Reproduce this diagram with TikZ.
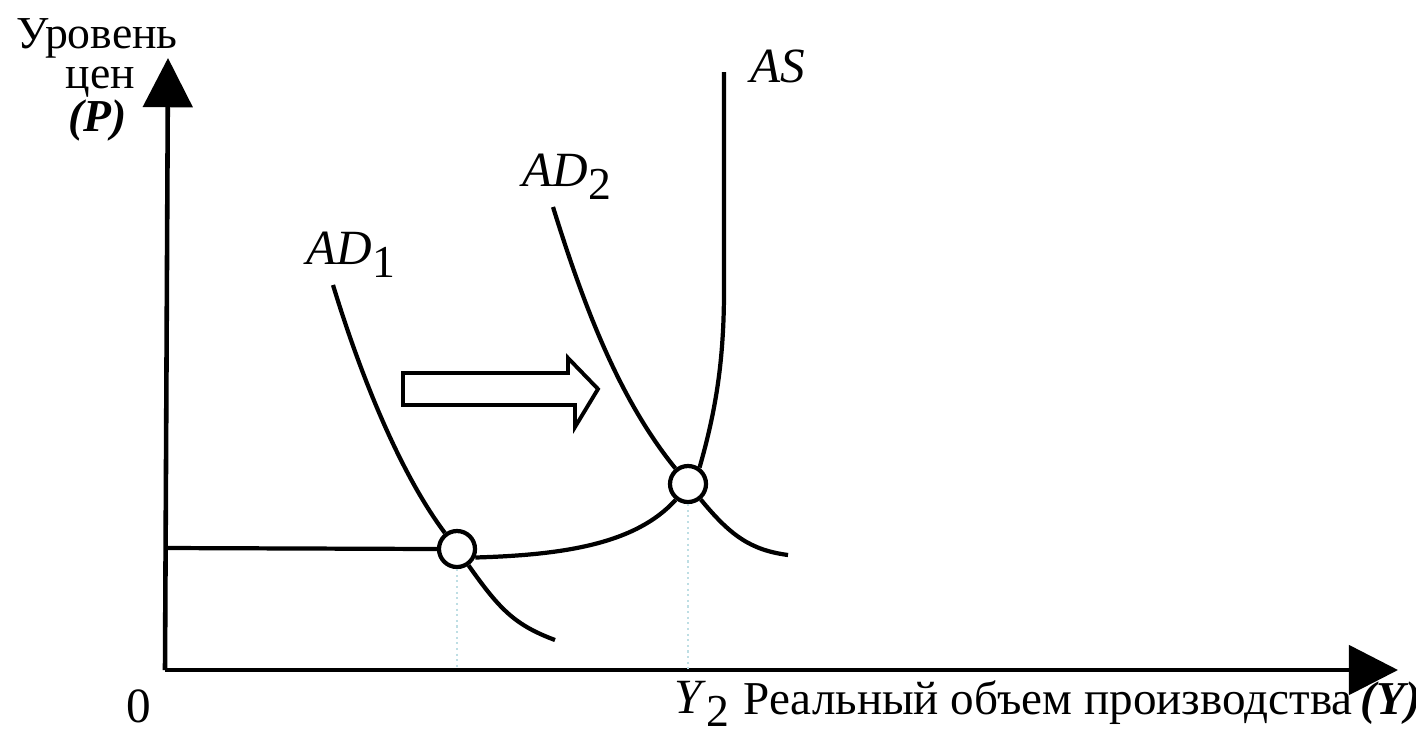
\documentclass[tikz,border=0pt]{standalone}
\usepackage{fontspec}
\setmainfont{Liberation Serif}
\usetikzlibrary{arrows.meta}
\newcommand{\lowidx}[1]{\raisebox{-3.8pt}{\fontsize{13}{13}\selectfont #1}}

\begin{document}
\begin{tikzpicture}[x=0.01cm, y=-0.01cm,
	curve/.style={line width=1.2pt},
	axis/.style={line width=1.3pt, -{Triangle[length=14pt, width=14pt]}},
	eq/.style={circle, draw, line width=1.2pt, fill=white, minimum size=0.36cm, inner sep=0pt},
	lbl/.style={anchor=base west, inner sep=0pt, font=\fontsize{14}{16}\selectfont},
	toplbl/.style={lbl, font=\fontsize{13}{14}\selectfont},
	axlbl/.style={lbl, font=\fontsize{13.4}{15}\selectfont},
	guide/.style={densely dotted, line width=0.6pt, color={rgb,255:red,190;green,222;blue,228}}]

\useasboundingbox (0,0) rectangle (1416,733);

% axes
\coordinate (o) at (165,670);
\draw[axis] (o) -- (168,58);
\draw[axis] (o) -- (1398,670);

% equilibrium points
\node[eq] (e1) at (457,549) {};
\node[eq] (e2) at (688,484) {};

% guide lines down to the output axis
\foreach \e in {e1,e2}{
	\draw[guide] (\e.south) -- (\e.south |- o);
}

% aggregate supply
\coordinate (as0) at (165,548);
\coordinate (astop) at (724,72);
\draw[curve] (as0) -- (e1.west);
\draw[curve] (e1.-25) .. controls (560,555) and (635,545) .. (e2.-128);
\draw[curve] (e2.55) .. controls (716,410) and (724,360) .. (724,290) -- (astop);

% demand before and after
\coordinate (ad1a) at (333,285);
\coordinate (ad1b) at (555,640);
\draw[curve] (ad1a) .. controls (365,390) and (405,480) .. (e1);
\draw[curve] (e1) .. controls (500,610) and (515,625) .. (ad1b);

\coordinate (ad2a) at (553,207);
\coordinate (ad2b) at (788,555);
\draw[curve] (ad2a) .. controls (585,310) and (620,400) .. (e2);
\draw[curve] (e2) .. controls (730,535) and (750,550) .. (ad2b);

% shift of demand
\draw[line width=1.1pt] (403,373) -- (568,373) -- (568,358) -- (598,389)
	-- (575,427) -- (575,405) -- (403,405) -- cycle;

% labels
\node[toplbl] (plab1) at (16,48) {Уровень};
\node[toplbl] (plab2) at (65,88) {цен};
\node[toplbl, font=\fontsize{13}{14}\selectfont\bfseries\itshape] (plab3) at (68,131) {(P)};
\node[lbl] (ad1lab) at (306,264) {\textit{AD}\lowidx{1}};
\node[lbl] (ad2lab) at (522,186) {\textit{AD}\lowidx{2}};
\node[lbl] (aslab) at (750,82) {\textit{AS}};
\node[lbl] (zero) at (126,722) {0};
\node[lbl] (y2lab) at (674,713) {\textit{Y}\lowidx{2}};
\node[axlbl] (ylab) at (743,714) {Реальный объем производства};
\node[axlbl, font=\fontsize{13.4}{15}\selectfont\bfseries\itshape] (ylab2) at (1360,714) {(Y)};

\end{tikzpicture}
\end{document}
